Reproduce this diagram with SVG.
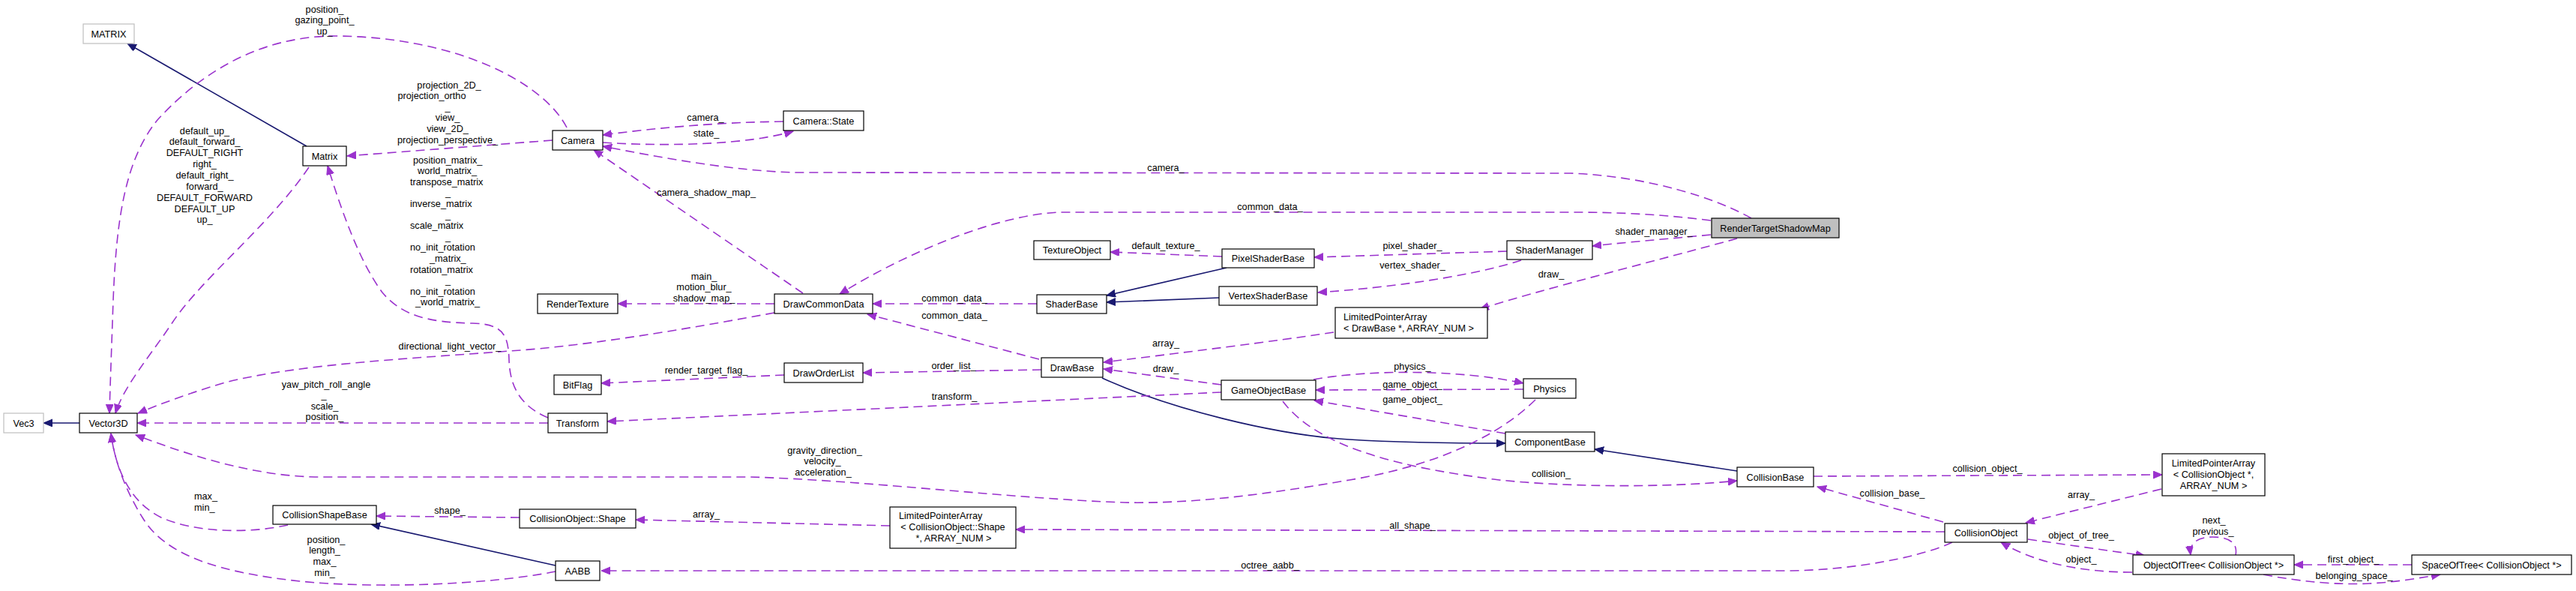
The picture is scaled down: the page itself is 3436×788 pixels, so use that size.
<svg xmlns="http://www.w3.org/2000/svg" width="3436" height="788" viewBox="0 0 3436 788">
<style>
text{font-family:"Liberation Sans",Arial,sans-serif;font-size:12.7px;fill:#000}
.n rect{fill:#fff;stroke:#000;stroke-width:1.2}
.n text{text-anchor:middle}
.g rect{stroke:#bfbfbf}
.h rect{fill:#bfbfbf}
.e{fill:none;stroke:#9a32cd;stroke-width:1.6;stroke-dasharray:12,7;marker-end:url(#mp)}
.i{fill:none;stroke:#191970;stroke-width:1.6;marker-end:url(#mn)}
.l text{text-anchor:middle}
.l text.s{text-anchor:start}
</style>
<defs>
<marker id="mp" markerUnits="userSpaceOnUse" markerWidth="14" markerHeight="12" refX="12" refY="5" orient="auto"><path d="M0,0 L12,5 L0,10 z" fill="#9a32cd" stroke="#9a32cd"/></marker>
<marker id="mn" markerUnits="userSpaceOnUse" markerWidth="14" markerHeight="12" refX="12" refY="5" orient="auto"><path d="M0,0 L12,5 L0,10 z" fill="#191970" stroke="#191970"/></marker>
</defs>
<rect width="3436" height="788" fill="#fff"/>
<g id="edges">
<path class="i" d="M409,195 L170,58"/>
<path class="i" d="M106,564 L58,564"/>
<path class="i" d="M1636,357 L1476,394"/>
<path class="i" d="M1626,397 L1476,403"/>
<path class="i" d="M1470,504 C1560,545 1700,580 1800,586 C1880,591 1960,591 2008,591"/>
<path class="i" d="M2317,628 L2127,599"/>
<path class="i" d="M741,754 L495,699"/>
<path class="e" d="M756,170 C725,110 610,50 450,48 C340,47 260,105 210,160 C165,215 155,300 151,400 C149,460 147,510 146,551"/>
<path class="e" d="M412,223 C360,300 270,370 230,430 C200,475 165,515 154,551"/>
<path class="e" d="M737,187 L463,208"/>
<path class="e" d="M731,557 C690,540 680,510 679,480 C678,445 670,432 630,431 C570,430 535,420 510,390 C480,350 455,280 437,221"/>
<path class="e" d="M1045,162 C960,163 880,170 804,180"/>
<path class="e" d="M804,190 C900,196 1000,192 1058,175"/>
<path class="e" d="M2336,291 C2290,265 2200,235 2095,231 L1060,230 C980,228 880,210 804,195"/>
<path class="e" d="M1071,391 L792,200"/>
<path class="e" d="M1033,405 L824,405"/>
<path class="e" d="M2282,294 C2220,286 2160,283 2100,283 L1415,283 C1340,285 1220,330 1120,392"/>
<path class="e" d="M1383,405 L1164,405"/>
<path class="e" d="M1386,479 L1157,419"/>
<path class="e" d="M1033,417 C950,432 800,460 680,468 C550,478 400,485 300,510 C250,525 210,540 184,551"/>
<path class="e" d="M1630,342 L1481,336"/>
<path class="e" d="M2010,335 L1753,343"/>
<path class="e" d="M2029,347 C1990,360 1900,380 1758,390"/>
<path class="e" d="M2282,313 C2230,318 2180,322 2124,328"/>
<path class="e" d="M2317,318 C2200,350 2060,385 1974,412"/>
<path class="e" d="M1779,443 C1700,455 1580,470 1472,483"/>
<path class="e" d="M1629,513 L1472,492"/>
<path class="e" d="M1389,493 L1151,497"/>
<path class="e" d="M1046,500 L802,511"/>
<path class="e" d="M1629,523 L810,562"/>
<path class="e" d="M731,564 L183,564"/>
<path class="e" d="M1752,506 C1830,492 1950,493 2032,511"/>
<path class="e" d="M2032,519 L1755,520"/>
<path class="e" d="M2008,578 L1753,534"/>
<path class="e" d="M1711,535 C1760,600 1880,625 2000,640 C2120,652 2250,648 2317,641"/>
<path class="e" d="M2048,533 C2000,580 1920,620 1800,640 C1700,657 1600,672 1500,670 C1350,665 1150,640 1000,636 L420,636 C340,634 260,610 181,580"/>
<path class="e" d="M2419,635 L2884,633"/>
<path class="e" d="M2883,652 L2702,697"/>
<path class="e" d="M2592,696 L2424,649"/>
<path class="e" d="M2594,709 L1355,706"/>
<path class="e" d="M1187,701 L848,693"/>
<path class="e" d="M693,690 L502,688"/>
<path class="e" d="M384,700 C330,712 260,710 215,690 C175,670 155,630 148,578"/>
<path class="e" d="M741,762 C650,780 500,785 400,775 C290,763 220,740 190,690 C165,650 152,610 148,578"/>
<path class="e" d="M2604,723 C2570,740 2480,760 2386,761 L802,761"/>
<path class="e" d="M2705,719 L2861,741"/>
<path class="e" d="M2844,763 C2770,763 2710,748 2669,723"/>
<path class="e" d="M2982,740 C2985,725 2975,716 2951,716 C2930,716 2920,725 2922,740"/>
<path class="e" d="M3217,753 L3060,753"/>
<path class="e" d="M3019,766 C3070,776 3120,780 3160,778 C3200,776 3230,770 3255,766"/>
</g>
<g id="labels" class="l">
<text x="433" y="16.5">position_</text><text x="433" y="31">gazing_point_</text><text x="433" y="45.5">up_</text>
<text x="273" y="178.5">default_up_</text><text x="273" y="193.3">default_forward_</text><text x="273" y="208.2">DEFAULT_RIGHT</text><text x="273" y="223">right_</text><text x="273" y="237.9">default_right_</text><text x="273" y="252.8">forward_</text><text x="273" y="267.6">DEFAULT_FORWARD</text><text x="273" y="282.5">DEFAULT_UP</text><text x="273" y="297.3">up_</text>
<text x="599" y="117.5">projection_2D_</text><text x="576" y="132">projection_ortho</text><text x="597" y="146.5">_</text><text x="597" y="160.5">view_</text><text x="597" y="175.5">view_2D_</text><text x="597" y="190.5">projection_perspective_</text>
<text class="s" x="551" y="217.5">position_matrix_</text><text class="s" x="557" y="232">world_matrix_</text><text class="s" x="547" y="246.7">transpose_matrix</text><text class="s" x="594" y="261.3">_</text><text class="s" x="547" y="275.9">inverse_matrix</text><text class="s" x="594" y="290.5">_</text><text class="s" x="547" y="305.1">scale_matrix</text><text class="s" x="594" y="319.7">_</text><text class="s" x="547" y="334.3">no_init_rotation</text><text class="s" x="573" y="348.9">_matrix_</text><text class="s" x="547" y="363.5">rotation_matrix</text><text class="s" x="594" y="378.1">_</text><text class="s" x="547" y="392.7">no_init_rotation</text><text class="s" x="554" y="407.3">_world_matrix_</text>
<text x="941" y="160.5">camera_</text>
<text x="942" y="181.5">state_</text>
<text x="1555" y="227.5">camera_</text>
<text x="942" y="260.5">camera_shadow_map_</text>
<text x="939" y="372.5">main_</text><text x="939" y="387">motion_blur_</text><text x="939" y="401.5">shadow_map_</text>
<text x="1694" y="279.5">common_data_</text>
<text x="1273" y="401.5">common_data_</text>
<text x="1273" y="424.5">common_data_</text>
<text x="600" y="465.5">directional_light_vector_</text>
<text x="1555" y="331.5">default_texture_</text>
<text x="1884" y="331.5">pixel_shader_</text>
<text x="1884" y="357.5">vertex_shader_</text>
<text x="2206" y="312.5">shader_manager_</text>
<text x="2069" y="369.5">draw_</text>
<text x="1555" y="461.5">array_</text>
<text x="1555" y="495.5">draw_</text>
<text x="1272" y="491.5">order_list_</text>
<text x="942" y="497.5">render_target_flag_</text>
<text x="1273" y="532.5">transform_</text>
<text x="435" y="516.5">yaw_pitch_roll_angle</text><text x="432" y="531">_</text><text x="433" y="545.5">scale_</text><text x="433" y="560">position_</text>
<text x="1884" y="492.5">physics_</text>
<text x="1884" y="516.5">game_object_</text>
<text x="1884" y="536.5">game_object_</text>
<text x="2069" y="635.5">collision_</text>
<text x="1100" y="604.5">gravity_direction_</text><text x="1097" y="619">velocity_</text><text x="1098" y="633.5">acceleration_</text>
<text x="2651" y="628.5">collision_object_</text>
<text x="2776" y="663.5">array_</text>
<text x="2524" y="661.5">collision_base_</text>
<text x="1884" y="704.5">all_shape_</text>
<text x="942" y="689.5">array_</text>
<text x="600" y="684.5">shape_</text>
<text class="s" x="259" y="665.5">max_</text><text class="s" x="259" y="680.5">min_</text>
<text x="435" y="723.5">position_</text><text x="433" y="737.5">length_</text><text x="433" y="752.5">max_</text><text x="433" y="767.5">min_</text>
<text x="1694" y="757.5">octree_aabb_</text>
<text x="2776" y="717.5">object_of_tree_</text>
<text x="2776" y="749.5">object_</text>
<text x="2953" y="697.5">next_</text><text x="2952" y="712.5">previous_</text>
<text x="3139" y="749.5">first_object_</text>
<text x="3140" y="771.5">belonging_space_</text>
</g>
<g id="MATRIX" class="n g"><rect x="111" y="32" width="68" height="26"/><text x="145" y="49.5">MATRIX</text></g>
<g id="Matrix" class="n"><rect x="404" y="195" width="58" height="26"/><text x="433" y="212.5">Matrix</text></g>
<g id="Camera" class="n"><rect x="737" y="174" width="67" height="26"/><text x="770.5" y="191.5">Camera</text></g>
<g id="CameraState" class="n"><rect x="1045" y="148" width="107" height="26"/><text x="1098.5" y="165.5">Camera::State</text></g>
<g id="RenderTexture" class="n"><rect x="717" y="392" width="107" height="26"/><text x="770.5" y="409.5">RenderTexture</text></g>
<g id="DrawCommonData" class="n"><rect x="1033" y="392" width="131" height="26"/><text x="1098.5" y="409.5">DrawCommonData</text></g>
<g id="TextureObject" class="n"><rect x="1379" y="321" width="102" height="25"/><text x="1430" y="338">TextureObject</text></g>
<g id="PixelShaderBase" class="n"><rect x="1630" y="332" width="123" height="25"/><text x="1691.5" y="349">PixelShaderBase</text></g>
<g id="VertexShaderBase" class="n"><rect x="1626" y="382" width="131" height="25"/><text x="1691.5" y="399">VertexShaderBase</text></g>
<g id="ShaderBase" class="n"><rect x="1383" y="393" width="93" height="25"/><text x="1429.5" y="410">ShaderBase</text></g>
<g id="ShaderManager" class="n"><rect x="2010" y="321" width="114" height="25"/><text x="2067" y="338">ShaderManager</text></g>
<g id="RenderTargetShadowMap" class="n h"><rect x="2283" y="291" width="170" height="26"/><text x="2368" y="308.5">RenderTargetShadowMap</text></g>
<g id="LPA_DrawBase" class="n"><rect x="1781" y="410" width="203" height="41"/><text x="1792" y="427" style="text-anchor:start">LimitedPointerArray</text><text x="1792" y="442" style="text-anchor:start">&lt; DrawBase *, ARRAY_NUM &gt;</text></g>
<g id="DrawBase" class="n"><rect x="1389" y="477" width="82" height="26"/><text x="1430" y="494.5">DrawBase</text></g>
<g id="DrawOrderList" class="n"><rect x="1046" y="484" width="105" height="26"/><text x="1098.5" y="501.5">DrawOrderList</text></g>
<g id="BitFlag" class="n"><rect x="739" y="500" width="63" height="26"/><text x="770.5" y="517.5">BitFlag</text></g>
<g id="GameObjectBase" class="n"><rect x="1629" y="507" width="126" height="26"/><text x="1692" y="524.5">GameObjectBase</text></g>
<g id="Physics" class="n"><rect x="2032" y="505" width="70" height="26"/><text x="2067" y="522.5">Physics</text></g>
<g id="ComponentBase" class="n"><rect x="2008" y="576" width="119" height="26"/><text x="2067.5" y="593.5">ComponentBase</text></g>
<g id="CollisionBase" class="n"><rect x="2317" y="623" width="102" height="26"/><text x="2368" y="640.5">CollisionBase</text></g>
<g id="LPA_CollisionObject" class="n"><rect x="2884" y="605" width="137" height="56"/><text x="2952.5" y="622">LimitedPointerArray</text><text x="2952.5" y="637">&lt; CollisionObject *,</text><text x="2952.5" y="651.5">ARRAY_NUM &gt;</text></g>
<g id="CollisionObject" class="n"><rect x="2594" y="698" width="110" height="25"/><text x="2649" y="715">CollisionObject</text></g>
<g id="ObjectOfTree" class="n"><rect x="2845" y="740" width="215" height="26"/><text x="2952.5" y="757.5">ObjectOfTree&lt; CollisionObject *&gt;</text></g>
<g id="SpaceOfTree" class="n"><rect x="3217" y="740" width="213" height="26"/><text x="3323.5" y="757.5">SpaceOfTree&lt; CollisionObject *&gt;</text></g>
<g id="LPA_Shape" class="n"><rect x="1187" y="676" width="168" height="55"/><text x="1199" y="692" style="text-anchor:start">LimitedPointerArray</text><text x="1271" y="707">&lt; CollisionObject::Shape</text><text x="1272" y="721.5">*, ARRAY_NUM &gt;</text></g>
<g id="CollisionObjectShape" class="n"><rect x="693" y="679" width="155" height="25"/><text x="770.5" y="696">CollisionObject::Shape</text></g>
<g id="CollisionShapeBase" class="n"><rect x="364" y="674" width="138" height="25"/><text x="433" y="691">CollisionShapeBase</text></g>
<g id="AABB" class="n"><rect x="741" y="748" width="59" height="26"/><text x="770.5" y="765.5">AABB</text></g>
<g id="Transform" class="n"><rect x="731" y="551" width="79" height="26"/><text x="770.5" y="568.5">Transform</text></g>
<g id="Vector3D" class="n"><rect x="106" y="551" width="77" height="26"/><text x="144.5" y="568.5">Vector3D</text></g>
<g id="Vec3" class="n g"><rect x="5" y="551" width="53" height="26"/><text x="31.5" y="568.5">Vec3</text></g>
</svg>
